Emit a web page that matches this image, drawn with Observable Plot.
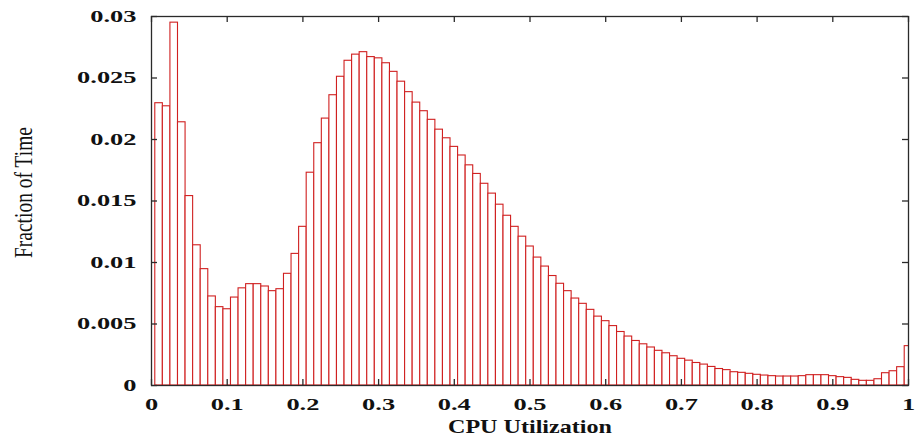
<!DOCTYPE html>
<html><head><meta charset="utf-8">
<script src="https://cdn.jsdelivr.net/npm/d3@7"></script>
<script src="https://cdn.jsdelivr.net/npm/@observablehq/plot@0.6"></script>
<style>
html,body{margin:0;padding:0;background:#fff;}
</style>
</head><body><div id="chart"></div>
<script>
const binCenters = [
  0.01,0.02,0.03,0.04,0.05,0.06,0.07,0.08,0.09,0.10,
  0.11,0.12,0.13,0.14,0.15,0.16,0.17,0.18,0.19,0.20,
  0.21,0.22,0.23,0.24,0.25,0.26,0.27,0.28,0.29,0.30,
  0.31,0.32,0.33,0.34,0.35,0.36,0.37,0.38,0.39,0.40,
  0.41,0.42,0.43,0.44,0.45,0.46,0.47,0.48,0.49,0.50,
  0.51,0.52,0.53,0.54,0.55,0.56,0.57,0.58,0.59,0.60,
  0.61,0.62,0.63,0.64,0.65,0.66,0.67,0.68,0.69,0.70,
  0.71,0.72,0.73,0.74,0.75,0.76,0.77,0.78,0.79,0.80,
  0.81,0.82,0.83,0.84,0.85,0.86,0.87,0.88,0.89,0.90,
  0.91,0.92,0.93,0.94,0.95,0.96,0.97,0.98,0.99,1.00
];
const fractionOfTime = [
  0.02295,0.0227,0.0295,0.0214,0.0154,0.0114,0.00946,0.00724,0.00637,0.0062,
  0.00715,0.0079,0.00824,0.00824,0.00805,0.00767,0.00783,0.00908,0.0107,0.0129,
  0.0173,0.0197,0.0217,0.0236,0.0251,0.0264,0.0269,0.0271,0.0267,0.0266,
  0.0262,0.0255,0.0247,0.02385,0.0230,0.0223,0.0216,0.0208,0.0201,0.0194,
  0.0187,0.0179,0.0172,0.0164,0.0156,0.0147,0.0138,0.0129,0.0121,0.0113,
  0.0104,0.00967,0.0089,0.00827,0.00767,0.00707,0.00664,0.00615,0.0056,0.00523,
  0.00483,0.00435,0.00398,0.00362,0.00335,0.00309,0.00282,0.00262,0.00238,0.00217,
  0.00202,0.00183,0.0017,0.00151,0.00134,0.00125,0.00108,0.00103,0.00095,0.00087,
  0.00081,0.00076,0.00073,0.00073,0.00073,0.00076,0.00084,0.00084,0.00084,0.00076,
  0.00068,0.00062,0.00046,0.00038,0.00038,0.00051,0.0010,0.00116,0.00149,0.0032
];
const binWidth = 0.01;
const xTickValues = [0,0.1,0.2,0.3,0.4,0.5,0.6,0.7,0.8,0.9,1];
const xTickLabels = ["0","0.1","0.2","0.3","0.4","0.5","0.6","0.7","0.8","0.9","1"];
const yTickValues = [0,0.005,0.01,0.015,0.02,0.025,0.03];
const yTickLabels = ["0","0.005","0.01","0.015","0.02","0.025","0.03"];
const xTitle = "CPU Utilization";
const yTitle = "Fraction of Time";

const bins = binCenters.map((c, i) => ({x1: c - binWidth / 2, x2: c + binWidth / 2, y: fractionOfTime[i]}));

const W = 915, H = 438, mL = 151, mR = 7, mT = 16, mB = 53;
const innerW = W - mL - mR, innerH = H - mT - mB;
const tickLen = 6;
const axisColor = "#2a2a2a";

const plot = Plot.plot({
  width: W, height: H,
  marginLeft: mL, marginRight: mR, marginTop: mT, marginBottom: mB,
  style: {fontFamily: "'Liberation Serif', 'Times New Roman', serif", background: "white", color: "#111"},
  x: {domain: [0, 1]},
  y: {domain: [0, 0.03]},
  marks: [
    Plot.rectY(bins, {x1: "x1", x2: "x2", y: "y", fill: "white", stroke: "#d02020", strokeWidth: 1.1, clip: true}),
    Plot.frame({stroke: axisColor, strokeWidth: 1.3}),
    Plot.tickX(xTickValues, {x: d => d, insetTop: innerH - tickLen, stroke: axisColor, strokeWidth: 1.3}),
    Plot.tickX(xTickValues, {x: d => d, insetBottom: innerH - tickLen, stroke: axisColor, strokeWidth: 1.3}),
    Plot.tickY(yTickValues, {y: d => d, insetRight: innerW - tickLen, stroke: axisColor, strokeWidth: 1.3}),
    Plot.tickY(yTickValues, {y: d => d, insetLeft: innerW - tickLen, stroke: axisColor, strokeWidth: 1.3}),
    Plot.axisX({ticks: xTickValues, tickFormat: d => xTickLabels[Math.round(d * 10)], tickSize: 0, tickPadding: 13, fontSize: 16, fontWeight: "bold", label: null}),
    Plot.axisY({ticks: yTickValues, tickFormat: d => yTickLabels[Math.round(d * 200)], tickSize: 0, tickPadding: 15, fontSize: 16, fontWeight: "bold", label: null}),
    Plot.text([xTitle], {frameAnchor: "bottom", dy: 47, text: d => d, fontSize: 19, fontWeight: "bold", fill: "#111"}),
    Plot.text([yTitle], {frameAnchor: "left", dx: -128, dy: 57, rotate: -90, textAnchor: "start", text: d => d, fontSize: 26, fill: "#111"})
  ]
});
document.getElementById("chart").append(plot);

function stretch(nodes, fn) {
  nodes.forEach(t => {
    const w = t.getComputedTextLength();
    t.setAttribute("textLength", fn(w));
    t.setAttribute("lengthAdjust", "spacingAndGlyphs");
  });
}
stretch(plot.querySelectorAll('g[aria-label="x-axis tick label"] text'), w => w * 1.65);
stretch(plot.querySelectorAll('g[aria-label="y-axis tick label"] text'), w => w * 1.65);
const titles = plot.querySelectorAll('g[aria-label="text"] text');
if (titles[0]) stretch([titles[0]], w => 164);
if (titles[1]) stretch([titles[1]], w => 131);
</script>
</body></html>
